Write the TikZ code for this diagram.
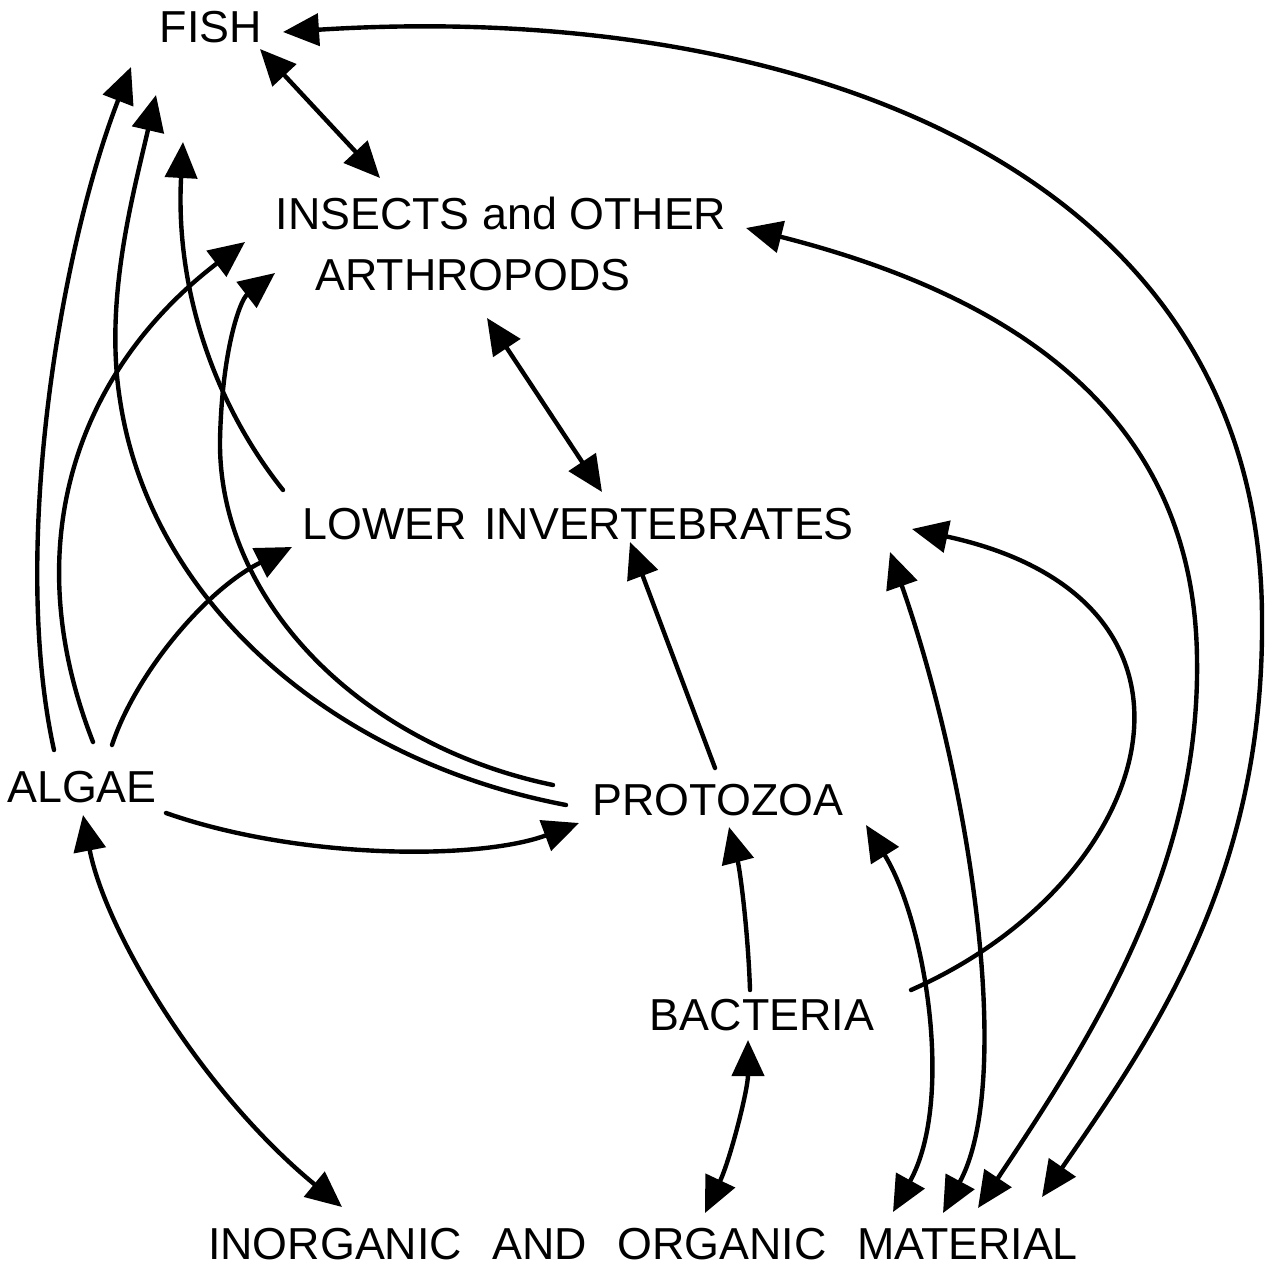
\documentclass[tikz,border=0pt]{standalone}
\usepackage{fontspec}
\setmainfont{Liberation Sans}
\usetikzlibrary{arrows.meta}

\begin{document}
\begin{tikzpicture}[
    x=0.02cm, y=-0.02cm,
    taxon/.style={
        inner sep=0pt,
        align=center,
        font=\fontsize{25.5}{34.6}\selectfont
    },
    arrow/.style={
        -{Triangle[length=7.2mm,width=6.4mm]},
        line width=2.5pt,
        line cap=round
    },
    twoway/.style={
        {Triangle[length=7.2mm,width=6.4mm]}-{Triangle[length=7.2mm,width=6.4mm]},
        line width=2.5pt,
        line cap=round
    }
]
\useasboundingbox (0,0) rectangle (1272,1273);

% Nodes
\node[taxon] (fish) at (211,27) {FISH};
\node[taxon] (insects) at (501,244) {INSECTS and OTHER\\ARTHROPODS\hspace*{1.12cm}};
\node[taxon] (lowinv) at (578,524) {LOWER\hspace{0.4em}INVERTEBRATES};
\node[taxon] (algae) at (82,787) {ALGAE};
\node[taxon] (protozoa) at (718,800) {PROTOZOA};
\node[taxon] (bacteria) at (762,1015) {BACTERIA};
\node[taxon] (material) at (643,1244) {INORGANIC\hspace{0.68em}AND\hspace{0.68em}ORGANIC\hspace{0.68em}MATERIAL};

% Into FISH
\draw[arrow] ([shift={(-28,-37)}]algae.center) .. controls (10,550) and (60,250) .. ([shift={(-80,40)}]fish.center);
\draw[arrow] ([shift={(-152,5)}]protozoa.center) .. controls (330,760) and (150,600) .. (120,400)
    .. controls (104,300) and (133,195) .. ([shift={(-55,68)}]fish.center);
\draw[arrow] ([shift={(-295,-34)}]lowinv.center) .. controls (215,405) and (175,290) .. ([shift={(-28,115)}]fish.center);
\draw[twoway] ([shift={(49,22)}]fish.center) -- ([shift={(-121,-66)}]insects.center);
\draw[twoway] ([shift={(72,5)}]fish.center) .. controls (783,0) and (1262,160) .. (1262,620)
    .. controls (1264,880) and (1150,1040) .. ([shift={(399,-47)}]material.center);

% Into INSECTS
\draw[arrow] ([shift={(11,-45)}]algae.center) .. controls (10,530) and (90,360) .. ([shift={(-256,-2)}]insects.center);
\draw[arrow] ([shift={(-165,-15)}]protozoa.center) .. controls (360,745) and (218,600) .. (220,440)
    .. controls (222,350) and (240,300) .. ([shift={(-226,29)}]insects.center);
\draw[twoway] ([shift={(-14,74)}]insects.center) -- ([shift={(24,-32)}]lowinv.center);
\draw[twoway] ([shift={(245,-16)}]insects.center) .. controls (990,290) and (1195,400) .. (1197,660)
    .. controls (1200,870) and (1090,1040) .. ([shift={(335,-36)}]material.center);

% Into LOWER INVERTEBRATES
\draw[arrow] ([shift={(30,-42)}]algae.center) .. controls (135,675) and (205,590) .. ([shift={(-286,23)}]lowinv.center);
\draw[arrow] ([shift={(-3,-32)}]protozoa.center) -- ([shift={(52,18)}]lowinv.center);
\draw[arrow] ([shift={(149,-25)}]bacteria.center) .. controls (1160,880) and (1240,600) .. ([shift={(334,5)}]lowinv.center);
\draw[twoway] ([shift={(312,28)}]lowinv.center) .. controls (970,780) and (1015,1080) .. ([shift={(300,-31)}]material.center);

% Into PROTOZOA
\draw[arrow] ([shift={(84,26)}]algae.center) .. controls (300,860) and (480,860) .. ([shift={(-139,23)}]protozoa.center);
\draw[arrow] ([shift={(-12,-25)}]bacteria.center) .. controls (748,930) and (740,870) .. ([shift={(11,27)}]protozoa.center);
\draw[twoway] ([shift={(148,25)}]protozoa.center) .. controls (925,920) and (955,1100) .. ([shift={(250,-32)}]material.center);

% Into MATERIAL
\draw[twoway] ([shift={(1,28)}]algae.center) .. controls (105,930) and (200,1090) .. ([shift={(-301,-37)}]material.center);
\draw[twoway] ([shift={(-14,25)}]bacteria.center) .. controls (748,1090) and (730,1160) .. ([shift={(62,-31)}]material.center);

\end{tikzpicture}
\end{document}
